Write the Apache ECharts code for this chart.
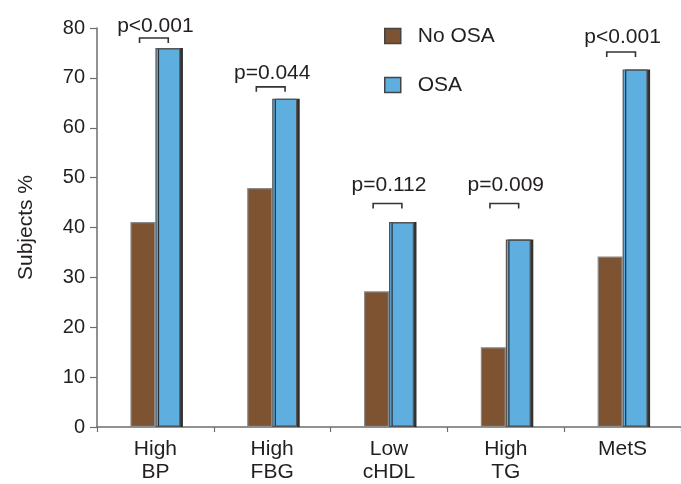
<!DOCTYPE html>
<html>
<head>
<meta charset="utf-8">
<script src="https://cdn.jsdelivr.net/npm/echarts@6/dist/echarts.min.js"></script>
<style>html,body{margin:0;padding:0;background:#fff;}#c{width:681px;height:484px;}</style>
</head>
<body>
<div id="c"></div>
<script>
var categories = ['High\nBP', 'High\nFBG', 'Low\ncHDL', 'High\nTG', 'MetS'];
var noOSA = [41.1, 47.9, 27.2, 16.0, 34.2];
var osa = [76.0, 65.8, 41.1, 37.6, 71.7];
var pLabels = ['p<0.001', 'p=0.044', 'p=0.112', 'p=0.009', 'p<0.001'];
var bracketY = [78.0, 68.2, 44.8, 44.8, 75.2];
var pTextY = [80.4, 71.0, 48.5, 48.5, 78.1];
var yTicks = {min: 0, max: 80, interval: 10};

var FONT = '"Liberation Sans", Arial, Helvetica, sans-serif';
var TXT = '#231f20';
var AX = '#6d6d6d';

var annData = categories.map(function (c, i) { return [i, bracketY[i], pTextY[i]]; });

var chart = echarts.init(document.getElementById('c'), null, {renderer: 'canvas'});
chart.setOption({
  animation: false,
  backgroundColor: '#ffffff',
  textStyle: {fontFamily: FONT},
  grid: {left: 97, top: 28, width: 590, height: 400, containLabel: false},
  legend: {
    orient: 'vertical',
    left: 379, top: 19,
    itemWidth: 16, itemHeight: 15,
    itemGap: 25,
    icon: 'rect',
    data: ['No OSA', 'OSA'],
    itemStyle: {borderColor: '#444', borderWidth: 1.5, shadowOffsetX: 0, shadowBlur: 0, shadowColor: 'transparent'},
    textStyle: {fontSize: 21, color: TXT, fontFamily: FONT, lineHeight: 24, padding: [0, 0, 0, 12]}
  },
  xAxis: {
    type: 'category',
    data: categories,
    axisLine: {lineStyle: {color: AX, width: 1.5}},
    axisTick: {show: true, length: 5, lineStyle: {color: AX, width: 1.2}},
    axisLabel: {fontSize: 21, color: TXT, fontFamily: FONT, lineHeight: 23, margin: 11, interval: 0}
  },
  yAxis: {
    type: 'value',
    min: yTicks.min, max: yTicks.max, interval: yTicks.interval,
    name: 'Subjects %',
    nameLocation: 'middle',
    nameGap: 60,
    nameRotate: 90,
    nameTextStyle: {fontSize: 21, color: TXT, fontFamily: FONT},
    splitLine: {show: false},
    axisLine: {show: true, lineStyle: {color: AX, width: 1.5}},
    axisTick: {show: true, length: 7, lineStyle: {color: AX, width: 1.2}},
    axisLabel: {fontSize: 20, color: TXT, fontFamily: FONT, margin: 12}
  },
  series: [
    {
      name: 'No OSA', type: 'bar', data: noOSA,
      barWidth: 25, barGap: '0%',
      itemStyle: {color: '#7d5331', borderColor: '#8a8a8a', borderWidth: 1.2}
    },
    {
      name: 'OSA', type: 'bar', data: osa,
      barWidth: 25, barGap: '0%',
      itemStyle: {color: '#5eaee0', borderColor: '#555555', borderWidth: 1.2,
        shadowColor: 'rgba(40,40,40,0.95)', shadowOffsetX: 2.5, shadowOffsetY: 0, shadowBlur: 0}
    },
    {
      name: 'ann', type: 'custom', data: annData, silent: true, z: 5,
      renderItem: function (params, api) {
        var idx = params.dataIndex;
        var b = api.coord([api.value(0), api.value(1)]);
        var t = api.coord([api.value(0), api.value(2)]);
        var bw = api.size([1, 0])[0];
        var hw = bw * 0.123;
        var cx = b[0] - 1.5;
        return {
          type: 'group',
          children: [
            {type: 'polyline', shape: {points: [[cx - hw, b[1] + 5], [cx - hw, b[1]], [cx + hw, b[1]], [cx + hw, b[1] + 5]]},
              style: {stroke: '#333', lineWidth: 1.6, fill: null}},
            {type: 'text', x: t[0], y: t[1],
              style: {text: pLabels[idx], font: '21px ' + FONT, fill: TXT, align: 'center', verticalAlign: 'middle'}}
          ]
        };
      }
    }
  ]
});
</script>
</body>
</html>
